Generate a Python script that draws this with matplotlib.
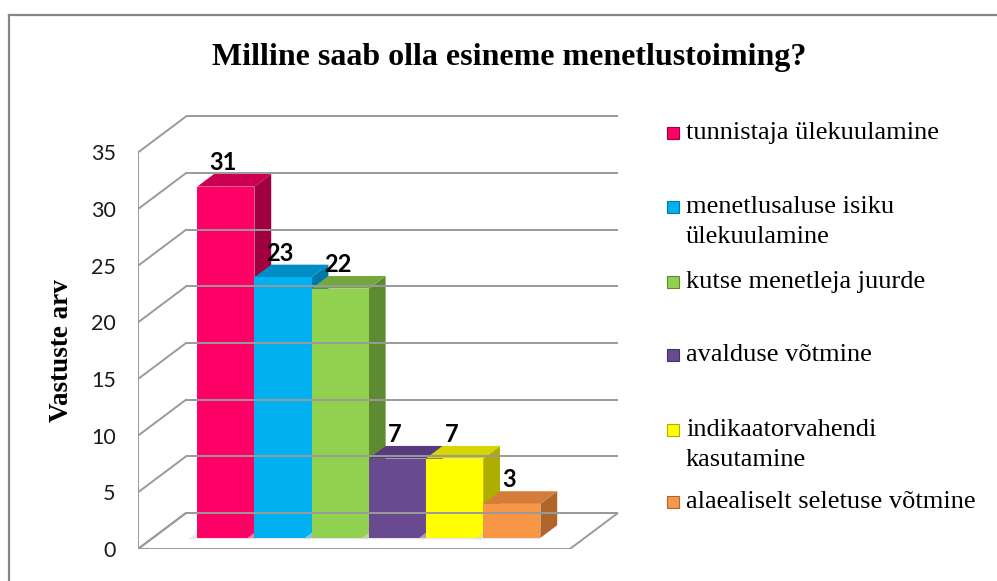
import matplotlib
matplotlib.use("Agg")
from matplotlib import pyplot as plt
from matplotlib.patches import Polygon, Rectangle
from matplotlib.lines import Line2D

# data
categories = ["tunnistaja ülekuulamine",
              "menetlusaluse isiku\nülekuulamine",
              "kutse menetleja juurde",
              "avalduse võtmine",
              "indikaatorvahendi\nkasutamine",
              "alaealiselt seletuse võtmine"]
answers = [31, 23, 22, 7, 7, 3]
y_ticks = [0, 5, 10, 15, 20, 25, 30, 35]

front_colors = ["#FF0066", "#00B0F0", "#92D050", "#684A90", "#FFFF00", "#F79646"]
top_colors = ["#CC0052", "#008CC4", "#74A83E", "#563C7C", "#D6D600", "#D47C38"]
side_colors = ["#A0003F", "#0078A8", "#5E8A32", "#46326A", "#AEAE00", "#B0652C"]

W, H = 997, 581
GRID = "#9A9A9A"
SERIF = ["Liberation Serif", "DejaVu Serif"]

# oblique projection of the 3d box (depth offset in data units)
DX = 48 / 57.2
DY = 36 / 11.33
GAP = 0.775
Z_FRONT, Z_BACK = 0.31, 0.66
floor_w = len(answers) + 2 * GAP


def proj(x, y, z):
    return (x + z * DX, y + z * DY)


fig = plt.figure(figsize=(W / 100, H / 100), dpi=100)
ax = fig.add_axes([138 / W, (H - 549) / H, 482 / W, 444 / H])
ax.set_xlim(0, 482 / 57.2)
ax.set_ylim(0, 444 / 11.33)
for s in ax.spines.values():
    s.set_visible(False)
ax.set_xticks([])
ax.set_yticks(y_ticks)
ax.tick_params(axis="y", length=0, pad=16, labelsize=15.5, labelcolor="#1a1a1a")
for lab in ax.get_yticklabels():
    lab.set_fontfamily("Lato")
ax.set_facecolor("none")

# back wall gridlines and side wall diagonals
for v in y_ticks:
    x0, y0 = proj(0, v, 1)
    x1, y1 = proj(floor_w, v, 1)
    ax.plot([x0, x1], [y0, y1], color=GRID, lw=1.4, solid_capstyle="butt")
    ax.plot([0, x0], [v, y0], color=GRID, lw=1.4)
ax.plot([0, 0], [0, y_ticks[-1]], color=GRID, lw=1.4)

# floor
floor = [proj(0, 0, 0), proj(floor_w, 0, 0), proj(floor_w, 0, 1), proj(0, 0, 1)]
ax.add_patch(Polygon(floor, closed=True, facecolor="white", edgecolor=GRID, lw=1.4))

# bars, left to right so the next front face hides the previous side
for i, v in enumerate(answers):
    xl = GAP + i
    xr = xl + 1
    # soft shadow on the floor
    sh = [proj(xl - 0.12, 0, Z_FRONT - 0.04), proj(xr, 0, Z_FRONT - 0.04),
          proj(xr, 0, Z_BACK), proj(xl - 0.12, 0, Z_BACK)]
    ax.add_patch(Polygon(sh, closed=True, facecolor="#d8d8d8", edgecolor="none", alpha=0.6))
    side = [proj(xr, 0, Z_FRONT), proj(xr, v, Z_FRONT), proj(xr, v, Z_BACK), proj(xr, 0, Z_BACK)]
    top = [proj(xl, v, Z_FRONT), proj(xr, v, Z_FRONT), proj(xr, v, Z_BACK), proj(xl, v, Z_BACK)]
    front = [proj(xl, 0, Z_FRONT), proj(xr, 0, Z_FRONT), proj(xr, v, Z_FRONT), proj(xl, v, Z_FRONT)]
    ax.add_patch(Polygon(side, closed=True, facecolor=side_colors[i], edgecolor="none"))
    ax.add_patch(Polygon(top, closed=True, facecolor=top_colors[i], edgecolor="none"))
    ax.add_patch(Polygon(front, closed=True, facecolor=front_colors[i], edgecolor="none"))
    lx, ly = proj(xl + 0.5, v, Z_FRONT)
    ax.annotate(str(v), (lx, ly), xytext=(-2, 9), textcoords="offset points",
                ha="center", va="bottom", fontsize=17, fontweight="bold",
                fontfamily="Lato", color="black")

# y label and title
fig.text(62 / W, 1 - 351 / H, "Vastuste arv", rotation=90, ha="center", va="center",
         fontsize=19.5, fontweight="bold", family=SERIF)
fig.text(509 / W, 1 - 57 / H, "Milline saab olla esineme menetlustoiming?",
         ha="center", va="center", fontsize=23, fontweight="bold", family=SERIF)

# legend
legend_y = [133, 207, 282, 355, 430, 502]
for i, lab in enumerate(categories):
    yc = legend_y[i]
    fig.patches.append(Rectangle((667 / W, 1 - (yc + 6) / H), 12 / W, 12 / H,
                                 transform=fig.transFigure, facecolor=front_colors[i],
                                 edgecolor=side_colors[i], lw=0.8))
    for k, line in enumerate(lab.split("\n")):
        fig.text(686 / W, 1 - (yc + 30 * k) / H, line, ha="left", va="center",
                 fontsize=19, family=SERIF)

# outer frame
fig.add_artist(Line2D([9 / W, 1], [1 - 15 / H, 1 - 15 / H], transform=fig.transFigure,
                      color="#868686", lw=1.6))
fig.add_artist(Line2D([9 / W, 9 / W], [1 - 15 / H, 0], transform=fig.transFigure,
                      color="#868686", lw=1.6))

fig.savefig("out.png", dpi=100)
